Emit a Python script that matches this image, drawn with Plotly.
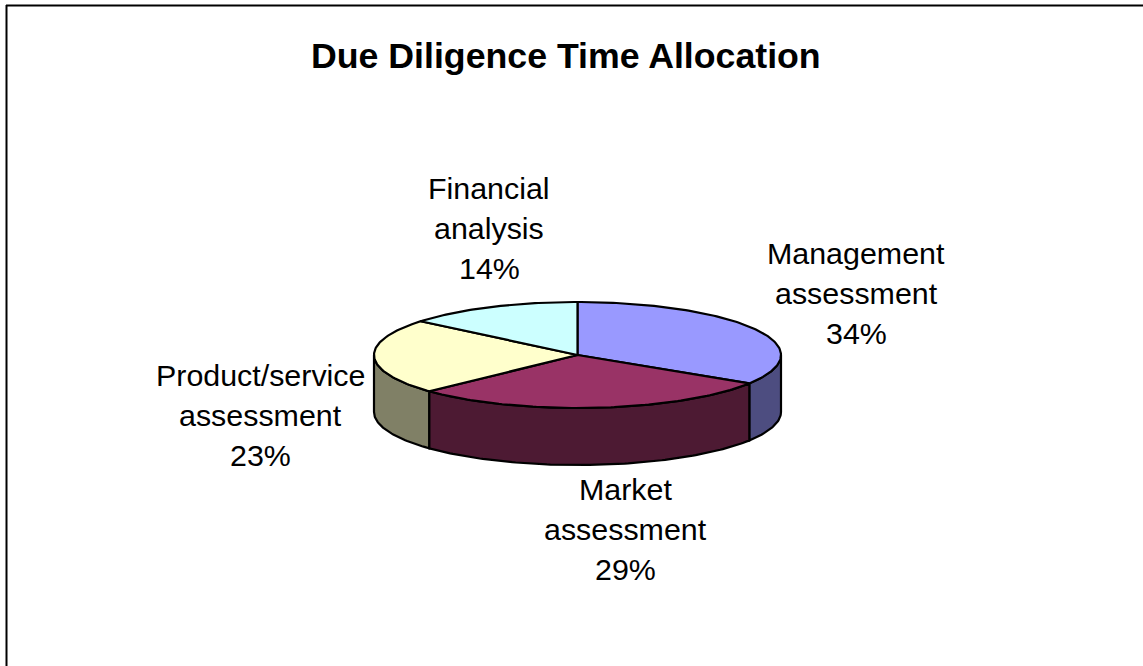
import numpy as np
import plotly.graph_objects as go

categories = ["Management assessment", "Market assessment", "Product/service assessment", "Financial analysis"]
values = [34, 29, 23, 14]
top_colors = ["#9999FF", "#993366", "#FFFFCC", "#CCFFFF"]
side_colors = ["#4D4D80", "#4D1A33", "#808066", "#668080"]
title_text = "Due Diligence Time Allocation"
label_lines = [["Management", "assessment", "34%"], ["Market", "assessment", "29%"],
               ["Product/service", "assessment", "23%"], ["Financial", "analysis", "14%"]]
label_x = [856, 625, 260, 489]
label_y = [253, 489, 375, 188]
line_pitch = 40

W, H = 1143, 666
cx, cy, rx, ry, depth = 577.5, 355, 203.5, 53, 57
LINE = dict(color="#000000", width=2.2)


def arc(a, b):
    t = np.radians(np.linspace(a, b, max(2, int(abs(b - a)) + 1)))
    return cx + rx * np.sin(t), cy - ry * np.cos(t)


fig = go.Figure()
fractions = np.array(values) / sum(values)
edges = np.concatenate([[0], np.cumsum(fractions) * 360])

# side walls: only the front half of the disc (90 to 270 degrees) is visible
for i in range(len(values)):
    a, b = max(edges[i], 90), min(edges[i + 1], 270)
    if b <= a:
        continue
    x, y = arc(a, b)
    fig.add_trace(go.Scatter(
        x=np.concatenate([x, x[::-1], x[:1]]),
        y=np.concatenate([y, y[::-1] + depth, y[:1]]),
        mode="lines", fill="toself", fillcolor=side_colors[i], line=LINE,
        hoverinfo="skip", showlegend=False))

# top faces
for i in range(len(values)):
    x, y = arc(edges[i], edges[i + 1])
    fig.add_trace(go.Scatter(
        x=np.concatenate([[cx], x, [cx]]),
        y=np.concatenate([[cy], y, [cy]]),
        mode="lines", fill="toself", fillcolor=top_colors[i], line=LINE,
        name=categories[i], showlegend=False))

annotations = [dict(x=566, y=56, text=f"<b>{title_text}</b>", showarrow=False,
                    xref="x", yref="y", font=dict(size=35.7, color="#000000", family="Liberation Sans"))]
for lines, lx, ly in zip(label_lines, label_x, label_y):
    for j, t in enumerate(lines):
        annotations.append(dict(x=lx, y=ly + j * line_pitch, text=t, showarrow=False, xref="x", yref="y",
                                font=dict(size=30.4, color="#000000", family="Liberation Sans")))

frame = dict(color="#000000", width=2)
fig.update_layout(
    width=W, height=H, autosize=False,
    margin=dict(l=0, r=0, t=0, b=0),
    paper_bgcolor="#FFFFFF", plot_bgcolor="#FFFFFF",
    xaxis=dict(range=[0, W], visible=False, fixedrange=True),
    yaxis=dict(range=[H, 0], visible=False, fixedrange=True),
    annotations=annotations,
    shapes=[dict(type="line", x0=6, x1=W, y0=5.5, y1=5.5, xref="x", yref="y", line=frame),
            dict(type="line", x0=6.5, x1=6.5, y0=5, y1=H, xref="x", yref="y", line=frame)],
)
fig.write_html("out.html", config={"displayModeBar": False},
               post_script="document.body.style.margin='0';document.body.style.overflow='hidden';")
